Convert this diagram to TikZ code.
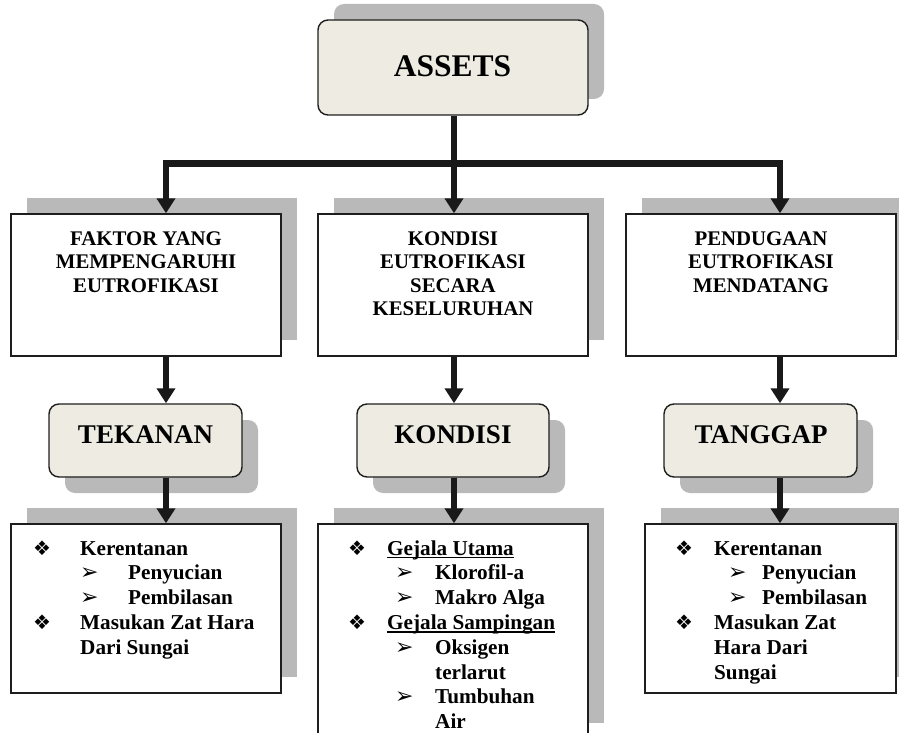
\documentclass[tikz,border=0pt]{standalone}
\usepackage{fontspec}
\setmainfont{Liberation Serif}
\newfontfamily\dingfont{DejaVu Sans}
\usetikzlibrary{arrows.meta}
\definecolor{boxfill}{RGB}{238,236,226}
\definecolor{shade}{RGB}{185,185,185}
\definecolor{ink}{RGB}{30,30,30}
\definecolor{arrowink}{RGB}{25,25,25}
\newcommand{\hdrtext}[1]{\parbox[t]{262pt}{\centering\fontsize{20.8}{23.5}\selectfont\bfseries #1}}
\newcommand{\bigtext}[1]{\fontsize{27}{30}\selectfont\bfseries #1}
\newcommand{\mybul}{{\dingfont\fontsize{20}{20}\selectfont\raisebox{-0.5pt}{❖}}}
\newcommand{\myarr}{{\dingfont\fontsize{22}{22}\selectfont ➢}}
\newcommand{\lone}[2]{\makebox[#1][l]{\mybul}#2}
\newcommand{\ltwo}[3]{\hspace*{#1}\makebox[#2][l]{\myarr}#3}
\newcommand{\myul}[1]{\setbox0\hbox{#1}\rlap{\rule[-3.2pt]{\wd0}{1.6pt}}\box0}
\newcommand{\listtext}[1]{\parbox[t]{262pt}{\raggedright\fontsize{21.2}{24.8}\selectfont\bfseries #1}}
\tikzset{
  sbox/.style={draw=ink, line width=1.4pt, fill=white, inner sep=0pt},
  rbox/.style={draw=ink, line width=1.4pt, fill=boxfill, rounded corners=10pt, inner sep=0pt},
  shadowbox/.style={fill=shade, draw=none},
  rshadow/.style={fill=shade, draw=none, rounded corners=10pt},
  conn/.style={line width=6.5pt, draw=arrowink, -{Triangle[width=18pt,length=15pt]}},
  barline/.style={line width=7pt, draw=arrowink},
}
\begin{document}
\begin{tikzpicture}[x=1pt,y=-1pt]
\useasboundingbox (0,0) rectangle (899,733);
\clip (0,0) rectangle (899,733);
% shadows
\fill[shadowbox, rounded corners=10pt] (334,4) rectangle (604,99);
\fill[shadowbox] (27,198) rectangle (297,340);
\fill[shadowbox] (334,198) rectangle (604,340);
\fill[shadowbox] (642,198) rectangle (912,340);
\fill[rshadow] (65,420) rectangle (258,493);
\fill[rshadow] (373,420) rectangle (565,493);
\fill[rshadow] (680,420) rectangle (873,493);
\fill[shadowbox] (27,508) rectangle (297,677);
\fill[shadowbox] (334,508) rectangle (604,723);
\fill[shadowbox] (661,508) rectangle (912,677);
% column coordinates
\coordinate (c1) at (166,0);
\coordinate (c2) at (454,0);
\coordinate (c3) at (780,0);
\coordinate (jl) at (163,163);
\coordinate (jr) at (783,163);
% boxes
\node[rbox, minimum width=270pt, minimum height=95pt] (assets) at (453,67.5) {};
\node[sbox, minimum width=270pt, minimum height=142pt] (b1) at (146,285) {};
\node[sbox, minimum width=270pt, minimum height=142pt] (b2) at (453,285) {};
\node[sbox, minimum width=270pt, minimum height=142pt] (b3) at (761,285) {};
\node[rbox, minimum width=193pt, minimum height=73pt] (r1) at (145.5,440.5) {};
\node[rbox, minimum width=192pt, minimum height=73pt] (r2) at (453,440.5) {};
\node[rbox, minimum width=193pt, minimum height=73pt] (r3) at (760.5,440.5) {};
\node[sbox, minimum width=270pt, minimum height=169pt] (l1) at (146,608.5) {};
\node[sbox, minimum width=270pt, minimum height=230pt] (l2) at (453,639) {};
\node[sbox, minimum width=251pt, minimum height=169pt] (l3) at (770.5,608.5) {};
% texts
\node[anchor=base, inner sep=0pt] (tassets) at (452.5,77) {\fontsize{31.5}{34}\selectfont\bfseries ASSETS};
\node[anchor=base, inner sep=0pt] (t1) at (146,245) {\hdrtext{FAKTOR YANG\\MEMPENGARUHI\\EUTROFIKASI}};
\node[anchor=base, inner sep=0pt] (t2) at (453,245) {\hdrtext{KONDISI\\EUTROFIKASI\\SECARA\\KESELURUHAN}};
\node[anchor=base, inner sep=0pt] (t3) at (761,245) {\hdrtext{PENDUGAAN\\EUTROFIKASI\\MENDATANG}};
\node[anchor=base, inner sep=0pt] (tr1) at (145.5,443) {\bigtext{TEKANAN}};
\node[anchor=base, inner sep=0pt] (tr2) at (453,443) {\bigtext{KONDISI}};
\node[anchor=base, inner sep=0pt] (tr3) at (761,443) {\bigtext{TANGGAP}};
\node[anchor=base west, inner sep=0pt] (tl1) at (33,555) {\listtext{%
\lone{47pt}{Kerentanan}\\
\ltwo{47pt}{48pt}{Penyucian}\\
\ltwo{47pt}{48pt}{Pembilasan}\\
\lone{47pt}{Masukan Zat Hara}\\
\hspace*{47pt}Dari Sungai}};
\node[anchor=base west, inner sep=0pt] (tl2) at (348,555) {\listtext{%
\lone{39pt}{\myul{Gejala Utama}}\\
\ltwo{47pt}{40pt}{Klorofil-a}\\
\ltwo{47pt}{40pt}{Makro Alga}\\
\lone{39pt}{\myul{Gejala Sampingan}}\\
\ltwo{47pt}{40pt}{Oksigen}\\
\hspace*{87pt}terlarut\\
\ltwo{47pt}{40pt}{Tumbuhan}\\
\hspace*{87pt}Air}};
\node[anchor=base west, inner sep=0pt] (tl3) at (675,555) {\listtext{%
\lone{39pt}{Kerentanan}\\
\ltwo{53pt}{34pt}{Penyucian}\\
\ltwo{53pt}{34pt}{Pembilasan}\\
\lone{39pt}{Masukan Zat}\\
\hspace*{39pt}Hara Dari\\
\hspace*{39pt}Sungai}};
% connectors
\draw[conn] (assets.south -| c2) -- (b2.north -| c2);
\draw[barline] (jl) -- (jr);
\draw[conn] (c1 |- jl) -- (b1.north -| c1);
\draw[conn] (c3 |- jr) -- (b3.north -| c3);
\draw[conn] (b1.south -| c1) -- (r1.north -| c1);
\draw[conn] (b2.south -| c2) -- (r2.north -| c2);
\draw[conn] (b3.south -| c3) -- (r3.north -| c3);
\draw[conn] (r1.south -| c1) -- (l1.north -| c1);
\draw[conn] (r2.south -| c2) -- (l2.north -| c2);
\draw[conn] (r3.south -| c3) -- (l3.north -| c3);
\end{tikzpicture}
\end{document}
